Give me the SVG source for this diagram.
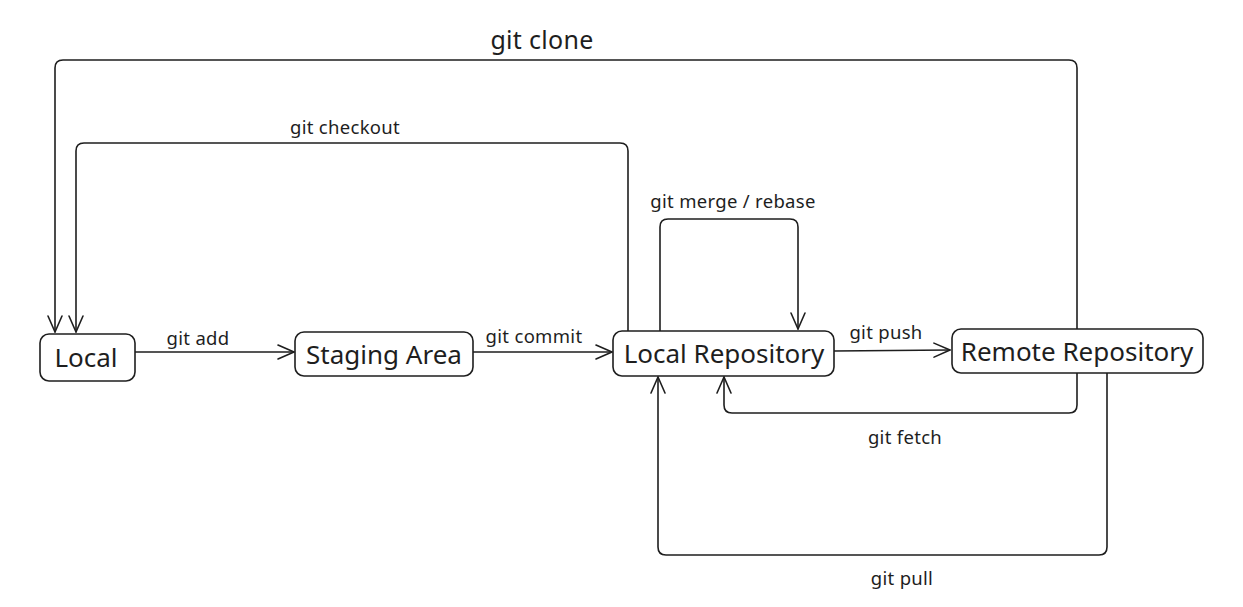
<svg xmlns="http://www.w3.org/2000/svg" width="1243" height="607" viewBox="0 0 1243 607">
<style>
.box{fill:#fff;stroke:#1e1e1e;stroke-width:1.6}
.nt{font-family:"Noto Sans","Open Sans",sans-serif;font-size:26px;fill:#1e1e1e;text-anchor:middle;dominant-baseline:central}
.lb{font-family:"Noto Sans","Open Sans",sans-serif;font-size:18.5px;fill:#1e1e1e;text-anchor:middle;dominant-baseline:central;letter-spacing:0.3px}
.c{fill:none;stroke:#1e1e1e;stroke-width:1.6;stroke-linejoin:round;stroke-linecap:round}
</style>
<defs>
<marker id="ah" viewBox="0 0 20 20" refX="18" refY="10" markerWidth="20" markerHeight="20" markerUnits="userSpaceOnUse" orient="auto">
<path d="M2,3 L18,10 L2,17" fill="none" stroke="#1e1e1e" stroke-width="1.6" stroke-linecap="round" stroke-linejoin="round"/>
</marker>
</defs>
<rect width="1243" height="607" fill="#fff"/>
<g id="connectors">
<path class="c" d="M135,352 L294,352" marker-end="url(#ah)"/>
<path class="c" d="M473,352 L612,352" marker-end="url(#ah)"/>
<path class="c" d="M834,351 L950,350" marker-end="url(#ah)"/>
<path class="c" d="M1077,329 L1077,68 Q1077,60 1069,60 L63,60 Q55,60 55,68 L55,332" marker-end="url(#ah)"/>
<path class="c" d="M628,331 L628,151 Q628,143 620,143 L84,143 Q76,143 76,151 L76,332" marker-end="url(#ah)"/>
<path class="c" d="M660,331 L660,227 Q660,219 668,219 L790,219 Q798,219 798,227 L798,329" marker-end="url(#ah)"/>
<path class="c" d="M1077,373 L1077,405 Q1077,413 1069,413 L732,413 Q724,413 724,405 L724,377" marker-end="url(#ah)"/>
<path class="c" d="M1107,373 L1107,547 Q1107,555 1099,555 L666,555 Q658,555 658,547 L658,377" marker-end="url(#ah)"/>
<text class="lb" x="198" y="337">git add</text>
<text class="lb" x="534" y="335">git commit</text>
<text class="lb" x="886" y="331">git push</text>
<text class="lb" x="542" y="39" style="font-size:25px">git clone</text>
<text class="lb" x="345" y="126">git checkout</text>
<text class="lb" x="733" y="200">git merge / rebase</text>
<text class="lb" x="905" y="436">git fetch</text>
<text class="lb" x="902" y="577">git pull</text>
</g>
<g id="local">
<rect class="box" x="40" y="334" width="95" height="47" rx="9"/>
<text class="nt" x="86" y="357">Local</text>
</g>
<g id="staging">
<rect class="box" x="295" y="332" width="178" height="44" rx="9"/>
<text class="nt" x="384" y="354">Staging Area</text>
</g>
<g id="localrepo">
<rect class="box" x="613" y="331" width="221" height="45" rx="9"/>
<text class="nt" x="724" y="353">Local Repository</text>
</g>
<g id="remoterepo">
<rect class="box" x="952" y="329" width="251" height="44" rx="9"/>
<text class="nt" x="1077" y="351">Remote Repository</text>
</g>
</svg>
